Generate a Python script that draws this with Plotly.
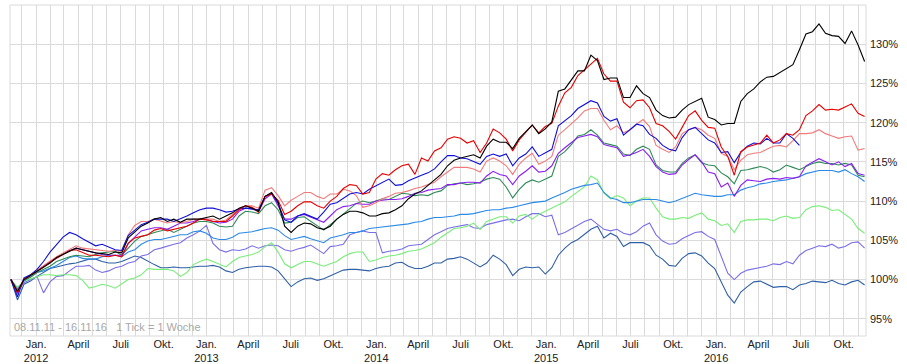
import pandas as pd
import plotly.graph_objects as go

# weekly chart, sampled every two weeks (08.11.11 - 16.11.16)
dates = pd.date_range("2011-11-08", periods=132, freq="14D")

black = [100.0, 98.5, 100.0, 100.5, 101.1, 101.6, 102.1, 102.8, 103.2, 103.7, 104.0, 103.8, 103.6, 103.4, 103.3, 103.2, 103.5, 103.4, 105.3, 106.0, 106.8, 107.2, 107.7, 107.9, 107.4, 107.7, 107.3, 107.7, 107.7, 107.7, 107.9, 108.1, 107.7,
         108.1, 108.5, 109.1, 109.4, 109.1, 108.7, 110.6, 111.1, 109.9, 106.8, 106.0, 106.8, 107.2, 107.1, 106.6, 106.4, 106.8, 107.7, 108.3, 108.7, 108.7, 108.5, 108.1, 108.1, 108.4, 108.5, 108.9, 109.4, 110.3, 110.9, 111.3, 112.0, 112.7,
         113.4, 114.5, 115.2, 115.5, 115.7, 115.9, 115.5, 117.0, 117.9, 117.5, 117.5, 116.7, 118.0, 118.9, 119.7, 118.6, 119.2, 120.1, 124.0, 124.3, 125.5, 126.6, 126.6, 128.6, 127.9, 125.5, 125.7, 125.7, 123.2, 123.2, 124.7, 123.7, 123.2,
         121.6, 120.9, 120.6, 120.7, 121.6, 122.3, 122.7, 123.1, 120.7, 120.4, 119.7, 119.9, 119.9, 122.7, 123.7, 124.3, 125.2, 125.8, 125.9, 126.4, 126.9, 127.4, 129.3, 131.3, 131.6, 132.6, 131.4, 131.1, 131.0, 130.1, 131.7, 129.9, 127.8]

red = [100.0, 98.3, 100.0, 100.5, 101.1, 101.6, 102.2, 102.7, 103.2, 103.7, 103.8, 103.5, 103.1, 103.1, 103.0, 102.9, 103.1, 102.9, 104.6, 105.3, 105.5, 105.7, 106.3, 106.5, 106.2, 106.4, 106.6, 106.8, 107.2, 107.7, 107.6, 107.4, 107.4,
       107.4, 108.1, 108.9, 109.4, 109.2, 108.6, 110.6, 110.9, 110.1, 108.3, 108.7, 109.4, 109.9, 109.9, 109.4, 109.1, 110.0, 110.6, 111.6, 112.1, 112.0, 110.9, 111.1, 112.8, 113.5, 113.3, 114.0, 114.5, 114.7, 113.4, 115.5, 115.1, 116.4,
       116.8, 117.9, 118.2, 118.0, 117.4, 117.7, 116.2, 117.4, 119.2, 118.7, 117.9, 116.4, 117.8, 118.7, 119.7, 118.7, 119.5, 119.9, 122.1, 123.8, 124.5, 126.0, 126.7, 127.4, 128.2, 126.2, 125.3, 125.3, 122.6, 121.9, 122.8, 122.9, 121.9,
       119.9, 119.6, 118.9, 117.9, 119.4, 120.9, 121.5, 120.3, 119.4, 119.3, 116.9, 115.7, 113.3, 116.3, 116.9, 117.2, 117.4, 118.4, 117.4, 117.8, 118.6, 118.4, 119.1, 120.9, 121.5, 122.3, 121.6, 121.7, 121.6, 122.0, 122.4, 121.2, 120.8]

salmon = [100.0, 98.6, 100.0, 100.6, 101.2, 101.7, 102.3, 102.9, 103.4, 103.9, 104.3, 104.0, 103.9, 103.8, 103.7, 103.6, 103.7, 103.6, 105.7, 106.9, 107.4, 107.4, 107.7, 107.4, 107.2, 107.4, 107.2, 107.4, 107.7, 107.7, 107.7, 107.7, 107.4,
          107.6, 108.3, 109.0, 109.4, 109.4, 109.1, 111.4, 111.7, 110.7, 109.4, 110.1, 110.6, 111.1, 111.1, 110.6, 110.3, 110.9, 110.9, 111.5, 111.3, 110.7, 109.2, 109.4, 109.8, 110.3, 110.6, 111.0, 111.1, 111.3, 111.6, 111.8, 112.1, 112.4,
          113.1, 113.7, 114.3, 114.3, 114.3, 114.1, 113.7, 115.1, 115.5, 115.1, 114.5, 113.4, 114.7, 115.5, 116.1, 114.7, 115.1, 115.7, 118.4, 119.1, 119.8, 120.6, 121.5, 121.8, 121.8, 120.3, 119.1, 119.6, 118.7, 119.1, 119.8, 120.4, 119.5,
          117.1, 116.6, 116.2, 116.9, 118.6, 119.1, 119.4, 119.1, 118.4, 118.0, 116.1, 115.7, 114.0, 115.2, 115.9, 116.1, 116.2, 116.6, 117.0, 117.1, 116.9, 117.7, 118.6, 118.6, 118.7, 119.1, 118.6, 118.3, 118.0, 118.2, 118.3, 116.5, 116.7]

blue = [100.0, 97.8, 100.2, 100.6, 101.3, 102.3, 103.5, 104.4, 105.4, 106.0, 105.7, 105.2, 104.7, 104.3, 104.5, 104.1, 103.8, 103.7, 105.6, 106.3, 107.0, 107.3, 107.7, 107.7, 107.7, 107.4, 107.7, 108.1, 108.5, 108.9, 109.1, 109.1, 108.9,
        108.6, 108.7, 109.0, 109.1, 109.0, 108.9, 110.6, 111.0, 109.7, 107.6, 107.3, 108.1, 108.4, 108.0, 107.7, 108.6, 109.6, 109.8, 110.3, 110.9, 111.1, 110.9, 111.5, 111.9, 112.3, 112.8, 112.0, 112.1, 112.6, 113.0, 113.3, 113.6, 114.1,
        115.0, 115.8, 115.8, 115.5, 115.4, 115.1, 114.7, 115.7, 116.0, 115.7, 116.0, 114.5, 115.5, 116.0, 116.9, 115.7, 116.1, 116.6, 119.6, 120.3, 120.9, 121.8, 122.3, 122.8, 122.5, 120.8, 120.2, 120.5, 118.4, 119.1, 119.8, 119.6, 118.5,
        118.0, 117.1, 116.6, 116.4, 118.1, 119.1, 119.4, 118.6, 117.8, 117.4, 116.2, 116.3, 114.9, 116.2, 117.0, 117.4, 117.3, 118.0, 117.4, 117.4, 118.6, 118.0, 117.1,
        None, None, None, None, None, None, None, None, None, None]

purple = [100.0, 98.2, 100.0, 100.6, 101.1, 101.7, 102.3, 102.8, 103.3, 103.7, 104.0, 103.8, 103.6, 103.4, 103.2, 103.1, 103.1, 103.1, 104.6, 105.4, 106.2, 106.4, 106.6, 106.6, 106.4, 106.8, 107.2, 107.2, 107.4, 107.7, 107.7, 107.4, 107.2,
          107.3, 107.7, 108.7, 109.1, 109.0, 108.7, 110.3, 110.9, 109.4, 107.7, 107.7, 108.1, 108.3, 108.0, 107.7, 107.3, 108.1, 108.9, 109.3, 109.4, 109.7, 109.6, 109.6, 110.0, 110.1, 110.2, 110.2, 110.3, 110.6, 111.0, 111.1, 111.4, 111.5,
          111.6, 112.1, 112.1, 112.3, 112.4, 112.4, 112.3, 113.2, 113.8, 113.4, 113.2, 112.1, 113.2, 113.8, 114.5, 113.7, 113.8, 114.5, 116.1, 116.8, 117.4, 118.1, 118.3, 118.5, 118.2, 117.2, 117.0, 116.8, 115.7, 115.9, 116.2, 116.6, 115.7,
          114.4, 113.7, 113.4, 113.5, 114.6, 115.3, 115.9, 115.0, 113.7, 113.5, 111.8, 112.3, 110.6, 112.0, 112.7, 112.6, 112.5, 112.8, 112.9, 112.8, 113.0, 112.9, 113.1, 114.5, 115.0, 115.4, 115.0, 114.6, 115.0, 114.4, 114.8, 113.5, 113.3]

green = [100.0, 98.5, 99.9, 100.3, 100.9, 101.3, 101.7, 102.3, 102.6, 102.9, 103.1, 103.0, 102.9, 103.2, 103.4, 103.5, 103.6, 103.1, 104.0, 104.9, 105.5, 105.7, 106.0, 106.2, 106.4, 106.0, 106.4, 106.7, 107.2, 107.4, 107.4, 107.2, 106.8,
         106.7, 106.8, 108.1, 108.7, 108.6, 108.4, 109.4, 109.8, 108.9, 107.2, 107.3, 107.9, 108.0, 107.4, 106.8, 106.3, 107.0, 107.7, 108.3, 109.1, 109.7, 110.0, 109.8, 110.0, 110.3, 110.2, 110.6, 111.0, 110.9, 110.7, 110.8, 110.7, 111.1,
         111.3, 112.0, 112.2, 112.3, 112.1, 112.2, 112.4, 112.8, 113.0, 112.8, 111.8, 110.4, 111.5, 112.3, 112.7, 112.4, 112.8, 113.2, 115.7, 116.3, 117.2, 118.3, 118.5, 119.1, 118.4, 117.4, 117.2, 117.0, 116.0, 115.8, 116.6, 117.0, 116.6,
         114.6, 113.9, 113.7, 113.7, 114.8, 115.5, 115.9, 114.9, 114.6, 114.5, 113.6, 113.1, 112.2, 113.9, 114.0, 114.2, 114.4, 114.2, 113.7, 114.0, 114.6, 114.3, 114.0, 114.4, 114.8, 115.0, 114.8, 114.8, 114.6, 114.8, 114.6, 113.3, 113.1]

dodger = [100.0, 98.8, 99.8, 100.3, 100.9, 101.1, 101.4, 101.8, 102.3, 102.8, 103.0, 102.7, 102.6, 102.6, 102.9, 103.1, 103.1, 102.9, 103.5, 103.8, 104.5, 104.9, 105.1, 105.1, 105.3, 105.5, 105.7, 105.7, 106.1, 106.2, 105.9, 105.3, 105.1,
          105.1, 105.4, 105.9, 106.0, 106.1, 106.3, 106.5, 106.6, 106.3, 105.6, 105.1, 105.3, 105.5, 105.2, 104.9, 104.7, 105.3, 105.5, 105.7, 106.0, 106.0, 106.2, 106.5, 106.6, 106.7, 106.8, 106.9, 107.0, 107.1, 107.3, 107.4, 107.7, 107.9,
          107.9, 108.0, 108.1, 108.3, 108.3, 108.4, 108.6, 108.8, 108.9, 108.9, 109.1, 109.2, 109.4, 109.6, 109.8, 109.9, 110.0, 110.4, 110.7, 111.1, 111.5, 111.8, 112.0, 112.1, 112.3, 111.1, 110.4, 110.2, 109.8, 109.8, 110.0, 110.2, 110.2,
          110.2, 110.0, 109.8, 110.0, 110.3, 110.6, 111.0, 110.8, 110.7, 110.6, 110.6, 110.8, 110.8, 111.4, 111.7, 111.9, 112.2, 112.3, 112.5, 112.6, 112.7, 112.9, 113.1, 113.5, 113.7, 113.9, 113.9, 113.9, 113.7, 114.0, 113.5, 113.1, 112.5]

lightgreen = [100.0, 99.0, 99.8, 100.1, 100.4, 100.6, 100.6, 100.5, 100.6, 100.6, 100.5, 99.9, 98.9, 99.1, 99.4, 99.2, 98.9, 99.4, 100.0, 100.2, 100.6, 101.4, 101.3, 101.3, 101.3, 101.1, 100.4, 100.9, 101.9, 102.3, 102.6, 102.3, 101.9,
              101.6, 102.3, 102.8, 103.0, 103.2, 103.5, 104.2, 104.7, 103.5, 102.0, 101.5, 101.9, 102.3, 102.3, 102.0, 101.7, 102.0, 102.3, 102.9, 103.3, 103.5, 103.5, 102.3, 102.5, 102.8, 103.0, 103.1, 103.3, 103.6, 103.7, 103.9, 104.3, 104.7,
              105.4, 106.0, 106.5, 106.6, 106.8, 107.2, 106.4, 107.4, 107.7, 108.0, 108.0, 107.2, 108.1, 108.3, 107.7, 108.3, 108.7, 109.1, 109.6, 109.9, 110.6, 111.2, 111.8, 113.2, 112.7, 111.0, 110.3, 110.7, 110.4, 109.4, 110.0, 110.4, 110.4,
              109.1, 108.0, 107.7, 107.7, 107.9, 107.8, 108.2, 108.5, 107.7, 107.5, 106.9, 107.1, 106.0, 107.4, 107.6, 107.6, 107.7, 107.7, 107.5, 107.9, 108.1, 107.8, 107.9, 108.9, 109.3, 109.4, 109.2, 108.8, 108.9, 108.3, 107.7, 106.5, 105.9]

slate = [100.0, 98.5, 99.6, 100.0, 100.4, 98.3, 99.7, 100.4, 100.5, 101.1, 101.7, 101.7, 101.8, 101.2, 100.9, 101.1, 101.5, 101.7, 102.1, 102.3, 103.0, 103.2, 103.8, 104.0, 104.3, 104.5, 104.7, 105.3, 105.7, 106.2, 106.9, 104.6, 103.8,
         103.5, 103.8, 103.7, 103.9, 104.3, 104.0, 104.3, 104.4, 104.3, 103.8, 103.6, 103.9, 104.1, 104.4, 103.8, 103.3, 104.2, 104.3, 104.5, 105.7, 106.0, 106.2, 106.0, 106.0, 103.4, 103.6, 103.7, 103.9, 104.3, 104.4, 104.5, 105.1, 105.7,
         106.1, 106.5, 106.7, 106.9, 107.0, 106.6, 106.5, 107.0, 107.2, 107.4, 107.6, 107.7, 107.5, 108.0, 108.4, 108.4, 108.0, 108.2, 105.7, 106.0, 106.5, 106.9, 107.4, 107.7, 107.0, 106.4, 106.2, 106.4, 105.9, 105.7, 106.1, 106.8, 107.2,
         105.7, 104.9, 104.5, 104.6, 105.2, 105.6, 106.0, 106.1, 105.5, 105.1, 102.9, 100.8, 100.0, 100.8, 101.2, 101.4, 101.6, 101.7, 102.0, 101.9, 102.3, 102.0, 103.1, 103.7, 104.0, 104.3, 104.2, 104.5, 104.0, 104.2, 104.7, 104.8, 104.0]

steel = [100.0, 97.4, 99.4, 99.8, 100.4, 100.9, 101.4, 101.6, 101.8, 102.0, 102.1, 102.4, 102.6, 102.6, 102.3, 102.1, 102.1, 102.3, 102.6, 103.0, 102.8, 102.3, 101.9, 101.5, 101.5, 101.6, 101.5, 101.5, 101.6, 101.7, 101.7, 101.8, 101.6,
         101.1, 100.9, 101.3, 101.5, 101.6, 101.7, 101.7, 101.6, 101.1, 100.1, 99.1, 99.7, 100.1, 100.2, 99.9, 100.1, 100.5, 100.9, 101.2, 101.3, 101.3, 101.2, 101.1, 101.4, 101.6, 101.7, 102.1, 102.2, 101.7, 101.4, 101.4, 101.7, 102.1,
         102.1, 102.6, 102.7, 102.9, 102.6, 102.1, 101.6, 102.1, 103.1, 102.6, 101.9, 100.5, 101.3, 101.6, 101.5, 101.6, 100.7, 101.5, 103.1, 104.0, 104.7, 105.1, 105.7, 106.4, 106.8, 105.3, 105.9, 105.5, 104.2, 104.7, 104.7, 104.7, 104.3,
         103.1, 102.6, 101.8, 101.7, 102.7, 103.3, 103.4, 103.0, 102.1, 101.4, 99.7, 98.0, 97.0, 98.4, 99.1, 99.7, 99.8, 99.4, 99.0, 99.1, 99.1, 98.7, 99.3, 99.5, 99.8, 99.7, 99.6, 99.9, 99.5, 99.3, 99.7, 99.9, 99.3]

y_ticks = [95, 100, 105, 110, 115, 120, 125, 130]
month_names = {1: "Jan.", 4: "April", 7: "Juli", 10: "Okt."}
footer_text = "08.11.11 - 16.11.16&nbsp;&nbsp; 1 Tick = 1 Woche"

series = [
    (steel, "#2f5fa6"),
    (slate, "#7a70e6"),
    (lightgreen, "#77ee77"),
    (dodger, "#2b8ae6"),
    (green, "#2e8b57"),
    (purple, "#8a1ef0"),
    (salmon, "#f27a7a"),
    (blue, "#1010d8"),
    (red, "#e60000"),
    (black, "#000000"),
]

fig = go.Figure()
for vals, color in series:
    fig.add_trace(go.Scatter(x=dates, y=vals, mode="lines",
                             line=dict(color=color, width=1.1),
                             connectgaps=False, showlegend=False, hoverinfo="skip"))

months = pd.date_range("2011-12-01", "2016-11-01", freq="MS")
ticktext = []
for m in months:
    if m.month in month_names:
        t = month_names[m.month]
        if m.month == 1:
            t += "<br>%d" % m.year
        ticktext.append(t)
    else:
        ticktext.append("")

grid = "#dadada"
fig.update_layout(
    template="none",
    width=907, height=364,
    margin=dict(l=10, r=41, t=5, b=28, pad=0, autoexpand=False),
    paper_bgcolor="white", plot_bgcolor="white",
    font=dict(family="Liberation Sans, Arial, sans-serif", size=11, color="#222"),
    xaxis=dict(type="date", range=["2011-11-06", "2016-11-18"],
               tickmode="array", tickvals=months, ticktext=ticktext,
               showgrid=True, gridcolor=grid, gridwidth=1,
               ticks="", zeroline=False, showline=False, automargin=False,
               ticklabelstandoff=0,
               tickfont=dict(size=11, color="#222")),
    yaxis=dict(side="right", range=[92.8, 135.0],
               tickmode="array", tickvals=y_ticks,
               ticktext=["%d%%" % v for v in y_ticks],
               showgrid=True, gridcolor=grid, gridwidth=1,
               ticks="", zeroline=False, showline=False, automargin=False,
               ticklabelstandoff=3,
               tickfont=dict(size=11, color="#222")),
    shapes=[dict(type="rect", xref="paper", yref="paper", x0=0, x1=1, y0=0, y1=1,
                 line=dict(color=grid, width=1), layer="below")],
    annotations=[dict(text=footer_text, xref="paper", yref="paper", x=0.002, y=0.003,
                      xanchor="left", yanchor="bottom", showarrow=False,
                      font=dict(size=11, color="#a8a8a8"))],
)

fig.write_html("out.html",
               config={"displayModeBar": False, "staticPlot": True},
               post_script="document.body.style.margin='0';document.body.style.overflow='hidden';")
